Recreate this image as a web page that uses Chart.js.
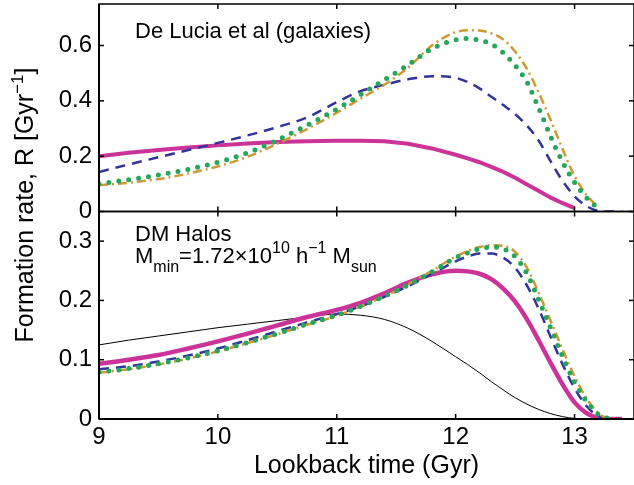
<!DOCTYPE html>
<html>
<head>
<meta charset="utf-8">
<script src="https://cdn.jsdelivr.net/npm/chart.js@4.4.1/dist/chart.umd.min.js"></script>
<style>
  body { margin: 0; background: #fff; }
  #wrap { width: 634px; height: 485px; }
</style>
</head>
<body>
<div id="wrap"><canvas id="chart" width="634" height="485"></canvas></div>
<script>
// lookback time grid (Gyr) shared by every curve
const time = [9.0, 9.25, 9.5, 9.75, 10.0, 10.25, 10.5, 10.75, 11.0, 11.2, 11.4, 11.6, 11.8,
  12.0, 12.1, 12.2, 12.3, 12.4, 12.5, 12.6, 12.7, 12.8, 12.9, 13.0, 13.1, 13.2, 13.3, 13.4];

// De Lucia et al (galaxies), upper panel
const galSolid = [0.200, 0.212, 0.222, 0.231, 0.239, 0.246, 0.251, 0.254, 0.256, 0.256, 0.254, 0.245, 0.228,
  0.205, 0.192, 0.178, 0.161, 0.143, 0.122, 0.098, 0.074, 0.050, 0.030, 0.012, null, null, null, null];
const galDashed = [0.143, 0.170, 0.196, 0.222, 0.248, 0.275, 0.305, 0.340, 0.395, 0.435, 0.458, 0.478, 0.489,
  0.483, 0.468, 0.445, 0.415, 0.385, 0.352, 0.310, 0.255, 0.180, 0.110, 0.055, 0.020, 0.002, 0, 0];
const galDotted = [0.100, 0.115, 0.132, 0.152, 0.178, 0.212, 0.258, 0.312, 0.370, 0.422, 0.476, 0.530, 0.588,
  0.620, 0.625, 0.619, 0.605, 0.574, 0.528, 0.468, 0.372, 0.270, 0.178, 0.105, 0.050, 0.010, null, null];
const galDashDot = [0.095, 0.104, 0.117, 0.137, 0.163, 0.198, 0.245, 0.298, 0.357, 0.408, 0.458, 0.520, 0.600,
  0.648, 0.655, 0.654, 0.644, 0.622, 0.578, 0.515, 0.428, 0.330, 0.225, 0.128, 0.060, 0.015, null, null];

// DM halos, lower panel
const haloThin = [0.125, 0.133, 0.140, 0.147, 0.154, 0.160, 0.166, 0.172, 0.177, 0.175, 0.168, 0.153, 0.131,
  0.105, 0.092, 0.078, 0.063, 0.049, 0.036, 0.025, 0.016, 0.009, 0.004, 0.001, 0, 0, null, null];
const haloSolid = [0.093, 0.100, 0.108, 0.119, 0.131, 0.144, 0.158, 0.172, 0.184, 0.196, 0.212, 0.230, 0.244,
  0.250, 0.249, 0.245, 0.236, 0.220, 0.198, 0.168, 0.132, 0.094, 0.058, 0.028, 0.010, 0.002, 0, 0];
const haloDashed = [0.084, 0.089, 0.097, 0.107, 0.119, 0.133, 0.148, 0.163, 0.177, 0.190, 0.206, 0.224, 0.245,
  0.266, 0.274, 0.279, 0.279, 0.272, 0.255, 0.225, 0.185, 0.138, 0.092, 0.052, 0.022, 0.005, 0, 0];
const haloDotted = [0.079, 0.085, 0.093, 0.103, 0.115, 0.129, 0.144, 0.160, 0.175, 0.190, 0.207, 0.226, 0.248,
  0.272, 0.280, 0.287, 0.290, 0.287, 0.274, 0.245, 0.200, 0.153, 0.105, 0.062, 0.030, 0.008, 0, null];
const haloDashDot = [0.078, 0.084, 0.092, 0.102, 0.114, 0.128, 0.143, 0.159, 0.174, 0.190, 0.207, 0.227, 0.250,
  0.274, 0.283, 0.290, 0.293, 0.292, 0.282, 0.255, 0.212, 0.165, 0.117, 0.072, 0.035, 0.010, 0, 0];

const xTicks = [9, 10, 11, 12, 13];
const galTicks = [0, 0.2, 0.4, 0.6];
const haloTicks = [0, 0.1, 0.2, 0.3];

const MAGENTA = "#cc3399";
const BLUE = "#333399";
const GREEN = "#26a65b";
const ORANGE = "#cc9933";
const FONT = '"Liberation Sans", Arial, Helvetica, sans-serif';

const pts = (ys) =>
  time.map((t, i) => ({ x: t, y: ys[i] })).filter((p) => p.y !== null);

const line = (ys, axis, color, width, dash, extra) => ({
  data: pts(ys),
  yAxisID: axis,
  borderColor: color,
  borderWidth: width,
  borderDash: dash,
  pointRadius: 0,
  fill: false,
  cubicInterpolationMode: "monotone",
  ...extra,
});

// frame around both panels with inward ticks on every side
const frame = {
  id: "frame",
  afterDatasetsDraw(chart) {
    const { ctx, scales } = chart;
    const x = scales.x;
    ctx.save();
    ctx.strokeStyle = "#000";
    ctx.lineWidth = 1.5;
    const seg = (x1, y1, x2, y2) => {
      ctx.beginPath();
      ctx.moveTo(x1, y1);
      ctx.lineTo(x2, y2);
      ctx.stroke();
    };
    for (const y of [scales.yTop, scales.yBot]) {
      ctx.strokeRect(x.left, y.top, x.right - x.left, y.bottom - y.top);
      for (const v of xTicks) {
        const px = x.getPixelForValue(v);
        seg(px, y.bottom, px, y.bottom - 5);
        seg(px, y.top, px, y.top + 5);
      }
      for (const t of y.ticks) {
        const py = y.getPixelForValue(t.value);
        seg(x.left, py, x.left + 5, py);
        seg(x.right, py, x.right - 5, py);
      }
    }
    ctx.lineWidth = 2;
    seg(x.left, scales.yBot.bottom, x.right, scales.yBot.bottom);
    seg(x.left, scales.yTop.top, x.left, scales.yBot.bottom);
    ctx.restore();
  },
};

// draws a run of [text, size, baseline shift] pieces from (x, y)
function richText(ctx, x, y, parts) {
  for (const [s, size, dy] of parts) {
    ctx.font = size + "px " + FONT;
    ctx.fillText(s, x, y + dy);
    x += ctx.measureText(s).width;
  }
}
function richWidth(ctx, parts) {
  let w = 0;
  for (const [s, size] of parts) {
    ctx.font = size + "px " + FONT;
    w += ctx.measureText(s).width;
  }
  return w;
}

const labels = {
  id: "labels",
  afterDraw(chart) {
    const { ctx, scales } = chart;
    const left = scales.x.left;
    ctx.save();
    ctx.fillStyle = "#000";
    ctx.textBaseline = "alphabetic";
    richText(ctx, left + 36, scales.yTop.top + 34, [["De Lucia et al (galaxies)", 22, 0]]);
    richText(ctx, left + 36, scales.yBot.top + 29, [["DM Halos", 22, 0]]);
    richText(ctx, left + 36, scales.yBot.top + 51, [
      ["M", 22, 0], ["min", 16, 9], ["=1.72\u00d710", 22, 0], ["10", 16, -10],
      [" h", 22, 0], ["\u22121", 16, -10], [" M", 22, 0], ["sun", 16, 9],
    ]);

    // shared y title
    const title = [["Formation rate, R [Gyr", 25, 0], ["\u22121", 17, -10], ["]", 25, 0]];
    const w = richWidth(ctx, title);
    ctx.translate(33, 205);
    ctx.rotate(-Math.PI / 2);
    richText(ctx, -w / 2, 0, title);
    ctx.restore();
  },
};

const yScale = (min, max, ticks) => ({
  type: "linear",
  position: "left",
  stack: "panels",
  stackWeight: 1,
  min: min,
  max: max,
  afterBuildTicks: (s) => { s.ticks = ticks.map((v) => ({ value: v })); },
  afterFit: (s) => {
    s.width = 99;
    s.paddingTop = 0;
    s.paddingBottom = 0;
  },
  grid: { display: false, drawTicks: false },
  border: { display: false },
  ticks: { font: { size: 24, family: FONT }, color: "#000", padding: 7, callback: (v) => String(v) },
});

new Chart(document.querySelector("#chart"), {
  type: "line",
  data: {
    datasets: [
      line(galDotted, "yTop", GREEN, 5, [0, 10], { borderCapStyle: "round" }),
      line(galDashDot, "yTop", ORANGE, 2.5, [9, 4, 2, 4]),
      line(galDashed, "yTop", BLUE, 2.5, [10, 7]),
      line(galSolid, "yTop", MAGENTA, 4, [], { cubicInterpolationMode: "default", tension: 0 }),
      line(haloDotted, "yBot", GREEN, 5, [0, 10], { borderCapStyle: "round" }),
      line(haloDashDot, "yBot", ORANGE, 2.5, [9, 4, 2, 4]),
      line(haloDashed, "yBot", BLUE, 2.5, [10, 7]),
      line(haloSolid, "yBot", MAGENTA, 4.5, []),
      line(haloThin, "yBot", "#000", 1, []),
    ],
  },
  options: {
    responsive: false,
    animation: false,
    events: [],
    layout: { padding: { left: 0, right: -2, top: 4, bottom: 0 } },
    plugins: { legend: { display: false }, tooltip: { enabled: false } },
    scales: {
      x: {
        type: "linear",
        position: "bottom",
        min: 9,
        max: 13.5,
        afterBuildTicks: (s) => { s.ticks = xTicks.map((v) => ({ value: v })); },
        afterFit: (s) => {
          s.height = 66;
          s.paddingLeft = 0;
          s.paddingRight = 0;
        },
        grid: { display: false, drawTicks: false },
        border: { display: false },
        ticks: { font: { size: 24, family: FONT }, color: "#000", padding: 4 },
        title: {
          display: true,
          text: "Lookback time (Gyr)",
          color: "#000",
          font: { size: 25, family: FONT },
          padding: { top: 0, bottom: 4 },
        },
      },
      yBot: yScale(0, 0.35, haloTicks),
      yTop: yScale(0, 0.75, galTicks),
    },
  },
  plugins: [frame, labels],
});
</script>
</body>
</html>
